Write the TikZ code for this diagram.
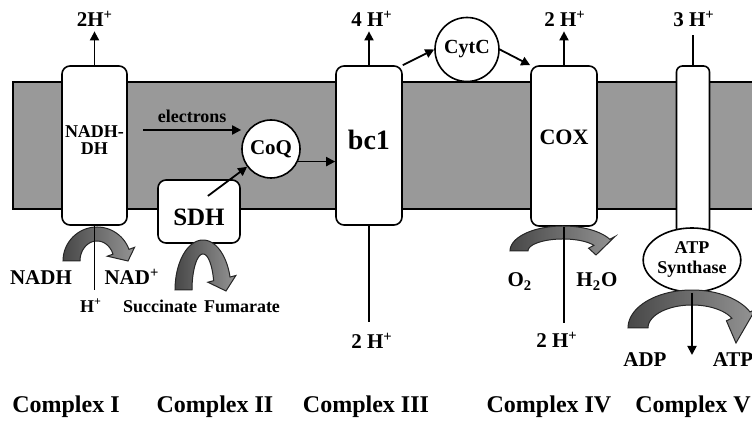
\documentclass[tikz,border=0pt]{standalone}
\usepackage{fontspec}
\setmainfont{Liberation Serif}
\usetikzlibrary{arrows.meta}
\usetikzlibrary{shapes.geometric}
\tikzstyle{complex} = [draw, fill=white, rounded corners=4pt, line width=0.8pt]
\tikzstyle{carrier} = [draw, circle, fill=white, line width=0.8pt, inner sep=0pt]
\tikzstyle{line} = [draw, line width=0.9pt, -{Triangle[length=4.5pt,width=4.5pt]}]
\tikzstyle{bent} = [draw=black!85, line width=0.5pt, left color=black!72, right color=black!42]
% curved gray arrow: cx, cy, rx, ry, band x, band y, end angle, tip x, tip y
\newcommand{\bentarrow}[9]{%
  \path[bent] plot[domain=180:#7, samples=40] ({#1+#3*cos(\x)},{#2-#4*sin(\x)})
    -- ({#1+(#3+6)*cos(#7)},{#2-(#4+6)*sin(#7)})
    -- (#8,#9)
    -- ({#1+(#3-#5-6)*cos(#7)},{#2-(#4-#6-6)*sin(#7)})
    -- plot[domain=#7:180, samples=40] ({#1+(#3-#5)*cos(\x)},{#2-(#4-#6)*sin(\x)})
    -- cycle;}

\begin{document}
\begin{tikzpicture}[x=0.5pt, y=-0.5pt,
    lab/.style={font=\fontsize{10.5}{12}\selectfont\bfseries, inner sep=1pt, anchor=base},
    small/.style={font=\fontsize{9}{10}\selectfont\bfseries, inner sep=1pt},
    cplx/.style={font=\fontsize{12}{14}\selectfont\bfseries, anchor=base}]
    \useasboundingbox (0,0) rectangle (752,426);
    %% Membrane
    \path [draw, fill=black!40, line width=0.8pt] (13,82) rectangle (780,209);
    %% Complexes
    \node [complex, minimum width=32.5pt, minimum height=79.5pt,
      label={[small, align=center, yshift=2.5pt, font=\fontsize{9}{8.5}\selectfont\bfseries]center:NADH-\\DH}] (nadh) at (94.5,145.5) {};
    \node [complex, minimum width=41pt, minimum height=31.5pt,
      label={[yshift=-3pt, font=\fontsize{12.5}{14}\selectfont\bfseries]center:SDH}] (sdh) at (199,211.5) {};
    \node [complex, minimum width=33pt, minimum height=79.5pt,
      label={[yshift=3pt, font=\fontsize{14}{16}\selectfont\bfseries]center:bc1}] (bc1) at (369,145.5) {};
    \node [complex, minimum width=33pt, minimum height=80pt,
      label={[yshift=4.5pt, font=\fontsize{11}{13}\selectfont\bfseries]center:COX}] (cox) at (564,146) {};
    \node [complex, rounded corners=3pt, minimum width=16.5pt, minimum height=84pt] (stalk) at (693,150) {};
    \node [carrier, minimum size=29pt, font=\fontsize{10.5}{12}\selectfont\bfseries] (coq) at (271,149) {CoQ};
    \node [carrier, minimum size=32pt, font=\fontsize{10}{12}\selectfont\bfseries] (cytc) at (467,49.5) {CytC};
    \node [draw, ellipse, fill=white, line width=0.8pt, inner sep=0pt, minimum width=48.5pt,
      minimum height=32pt, align=center, font=\fontsize{9}{10}\selectfont\bfseries] (atps) at (692,260) {ATP\\Synthase};
    %% Curved arrows
    \bentarrow{97}{261}{34}{34}{17}{14}{20}{128}{261}
    \bentarrow{203}{290}{28}{50}{17}{14}{15}{226}{291}
    \bentarrow{563}{251}{53}{25}{18}{13}{28}{596}{255}
    \bentarrow{692}{328}{64}{38}{20}{15}{25}{736}{343}
    %% Protons out
    \node [lab] (up1) at (95,27) {2H\textsuperscript{+}};
    \node [lab] (up3) at (372,27) {4 H\textsuperscript{+}};
    \node [lab] (up4) at (565,27) {2 H\textsuperscript{+}};
    \node [lab] (up5) at (694,27) {3 H\textsuperscript{+}};
    \path [line, shorten >=1pt] (nadh.north) -- (nadh.north |- up1.south);
    \path [line, shorten >=1pt] (bc1.north) -- (bc1.north |- up3.south);
    \path [line, shorten >=1pt] (cox.north) -- (cox.north |- up4.south);
    \path [draw, line width=0.9pt, shorten >=2.5pt] (stalk.north) -- (stalk.north |- up5.south);
    %% Protons in
    \node [small, anchor=base] (hin1) at (91,313) {H\textsuperscript{+}};
    \node [lab] (hin3) at (372,349) {2 H\textsuperscript{+}};
    \node [lab] (hin4) at (557,348) {2 H\textsuperscript{+}};
    \path [draw, line width=0.9pt, shorten >=3pt] (nadh.south) -- (nadh.south |- hin1.north);
    \path [draw, line width=0.9pt, shorten >=4pt] (bc1.south) -- (bc1.south |- hin3.north);
    \path [draw, line width=0.9pt, shorten >=3pt] (cox.south) -- (cox.south |- hin4.north);
    \coordinate (atpout) at (692,355);
    \path [line] (atps.south) -- (atpout);
    %% Electron transport
    \coordinate (estart) at (143,130);
    \path [line] (estart) -- (estart -| coq.west) node [small, midway, above=2pt] (elab) {electrons};
    \path [line, shorten <=13pt] ([xshift=-6pt]sdh.center) -- (coq);
    \path [line] (coq.-25) -- (coq.-25 -| bc1.west);
    \path [line] (bc1.north east) -- (cytc.west);
    \path [line] (cytc.east) -- (cox.north west);
    %% Substrates and products
    \node [lab] (nadhl) at (41,285) {NADH};
    \node [lab] (nadl) at (132,285) {NAD\textsuperscript{+}};
    \node [small, anchor=base] (succ) at (160,313) {Succinate};
    \node [small, anchor=base] (fum) at (242,313) {Fumarate};
    \node [lab] (o2) at (520,287) {O\textsubscript{2}};
    \node [lab] (h2o) at (597,287) {H\textsubscript{2}O};
    \node [lab] (adp) at (645,367) {ADP};
    \node [lab] (atp) at (733,367) {ATP};
    %% Complex names
    \node [cplx] (c1) at (66,413) {Complex I};
    \node [cplx] (c2) at (215,413) {Complex II};
    \node [cplx] (c3) at (366,413) {Complex III};
    \node [cplx] (c4) at (549,413) {Complex IV};
    \node [cplx] (c5) at (693,413) {Complex V};
\end{tikzpicture}
\end{document}
